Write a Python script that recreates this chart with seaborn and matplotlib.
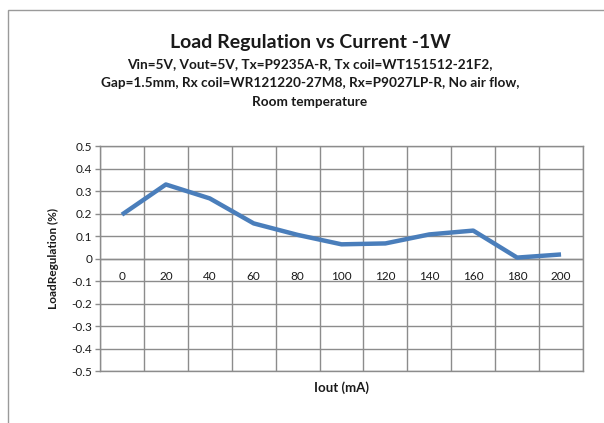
import matplotlib
matplotlib.use("Agg")
import matplotlib.pyplot as plt
import seaborn as sns
import pandas as pd
from matplotlib.patches import Rectangle

iout = ["0", "20", "40", "60", "80", "100", "120", "140", "160", "180", "200"]
load_reg = [0.195, 0.329, 0.267, 0.156, 0.105, 0.063, 0.067, 0.107, 0.124, 0.004, 0.018]
y_ticks = [-0.5, -0.4, -0.3, -0.2, -0.1, 0, 0.1, 0.2, 0.3, 0.4, 0.5]

title = "Load Regulation vs Current -1W"
subtitle_lines = ["Vin=5V, Vout=5V, Tx=P9235A-R, Tx coil=WT151512-21F2,",
                  "Gap=1.5mm, Rx coil=WR121220-27M8, Rx=P9027LP-R, No air flow,",
                  "Room temperature"]

sns.set_theme(style="white")
plt.rcParams["font.family"] = ["Lato", "DejaVu Sans"]

df = pd.DataFrame({"iout": pd.Categorical(iout, categories=iout), "reg": load_reg})
df["pos"] = df["iout"].cat.codes

fig = plt.figure(figsize=(6.04, 4.23), dpi=100)
W, H = 604, 423
ax = fig.add_axes([100 / W, 1 - 371 / H, 483 / W, 225 / H])

sns.lineplot(data=df, x="pos", y="reg", ax=ax, color="#4A7EBB", linewidth=3.2,
             solid_capstyle="butt")

grid_c = "#8c8c8c"
txt_c = "#1a1a1a"
ax.set_xlim(-0.5, len(iout) - 0.5)
ax.set_ylim(-0.5, 0.5)
ax.set_yticks(y_ticks)
ax.set_yticklabels([f"{v:g}" for v in y_ticks], fontsize=8.5, color=txt_c)
ax.set_xticks([i - 0.5 for i in range(len(iout) + 1)])
ax.set_xticklabels([])
ax.tick_params(axis="x", length=0)
ax.tick_params(axis="y", length=3.5, width=1, color=grid_c, pad=2, left=True)
ax.grid(True, color=grid_c, linewidth=1)
ax.set_axisbelow(True)
for s in ax.spines.values():
    s.set_color(grid_c)
    s.set_linewidth(1)
ax.axhline(0, color=grid_c, linewidth=1, zorder=1)

for i, lab in enumerate(iout):
    ax.text(i, -0.078, lab, ha="center", va="center", fontsize=8.5, color=txt_c)

ax.set_xlabel("")
ax.set_ylabel("LoadRegulation (%)", fontsize=8.5, fontweight="bold",
              color=txt_c, labelpad=9)
fig.text(341 / W, 1 - 388 / H, "Iout (mA)", ha="center", va="center",
         fontsize=9.5, fontweight="bold", color=txt_c)

cx = 310 / W
fig.text(cx, 1 - 48 / H, title, ha="center", va="baseline",
         fontsize=14, fontweight="bold", color=txt_c)
for line, base in zip(subtitle_lines, [68, 87, 106]):
    fig.text(cx, 1 - base / H, line, ha="center", va="baseline",
             fontsize=9.8, fontweight="bold", color=txt_c)

fig.patches.append(Rectangle((8 / W, -0.05), 1.0, 1.05 - 10 / H,
                             transform=fig.transFigure, fill=False,
                             edgecolor="#9a9a9a", linewidth=1))

fig.savefig("out.png", dpi=100)
